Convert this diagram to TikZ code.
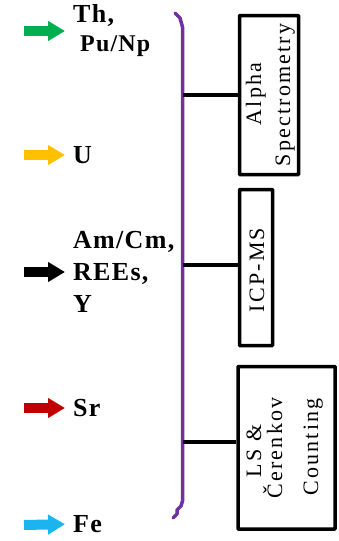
\documentclass[tikz,border=0pt]{standalone}
\usepackage{fontspec}
\setmainfont{Liberation Serif}
\newfontfamily\labfont[LetterSpace=5]{Liberation Serif}
\newfontfamily\boxfont[LetterSpace=10]{Liberation Serif}
\usetikzlibrary{arrows.meta}
\definecolor{agreen}{HTML}{00B050}
\definecolor{ayellow}{HTML}{FFC000}
\definecolor{ared}{HTML}{C00000}
\definecolor{acyan}{HTML}{1CB4EE}
\definecolor{apurple}{HTML}{7030A0}
\begin{document}
\begin{tikzpicture}[x=1pt,y=-1pt,
  lab/.style={font=\labfont\bfseries\fontsize{26}{32}\selectfont, inner sep=0pt, anchor=west, align=left},
  fat/.style={line width=10pt, -{Triangle[length=17pt,width=19pt]}, shorten >=8pt},
  box/.style={draw, line width=3.5pt, rounded corners=0.6pt, inner sep=0pt},
  btext/.style={font=\boxfont\fontsize{22}{24}\selectfont, rotate=90, anchor=base, inner sep=0pt},
  conn/.style={line width=3.5pt}]
\path[use as bounding box] (0,0) rectangle (338,541);

% labels and arrows
\coordinate (t1) at (24,31);
\coordinate (t2) at (24,155);
\coordinate (t3) at (24,272);
\coordinate (t4) at (24,408);
\coordinate (t5) at (24,525);
\node[lab, font=\labfont\bfseries\fontsize{26}{29}\selectfont] (th) at (73,31) {Th,\\\hspace*{7pt}{\fontsize{24}{29}\selectfont Pu/Np}};
\node[lab] (u) at (73,155) {U};
\node[lab] (am) at (73,272) {Am/Cm,\\REEs,\\Y};
\node[lab] (sr) at (73,408) {Sr};
\node[lab] (fe) at (73,524) {Fe};
\draw[fat, agreen] (t1) -- (th.west);
\draw[fat, ayellow] (t2) -- (u.west);
\draw[fat, black] (t3) -- (am.west);
\draw[fat, ared] (t4) -- (sr.west);
\draw[fat, acyan] (t5) -- (fe.west);

% purple brace
\draw[apurple, line width=3.5pt, line cap=round, line join=round]
  (175,13) -- (180,18) -- (182.5,27) -- (182.5,501) -- (181,506) -- (177,510) -- (177,514) -- (173,518);

% boxes
\node[box, minimum width=59pt, minimum height=159pt] (alpha) at (269,95) {};
\node[box, minimum width=33pt, minimum height=156pt] (icp) at (256,267.5) {};
\node[box, minimum width=97pt, minimum height=162.5pt] (ls) at (286.5,447.75) {};

% box texts
\node[btext] (a1) at (261,94) {Alpha};
\node[btext] (a2) at (290,95) {Spectrometry};
\node[btext] (i1) at (264,270) {ICP-MS};
\node[btext] (l1) at (261,451) {LS \&};
\node[btext] (l2) at (282,448) {Čerenkov};
\node[btext] (l3) at (318,447) {Counting};

% connectors
\coordinate (b1) at (182.5,95);
\coordinate (b2) at (182.5,265);
\coordinate (b3) at (182.5,442);
\draw[conn] (b1) -- (b1 -| alpha.west);
\draw[conn] (b2) -- (b2 -| icp.west);
\draw[conn] (b3) -- (b3 -| ls.west);
\end{tikzpicture}
\end{document}
